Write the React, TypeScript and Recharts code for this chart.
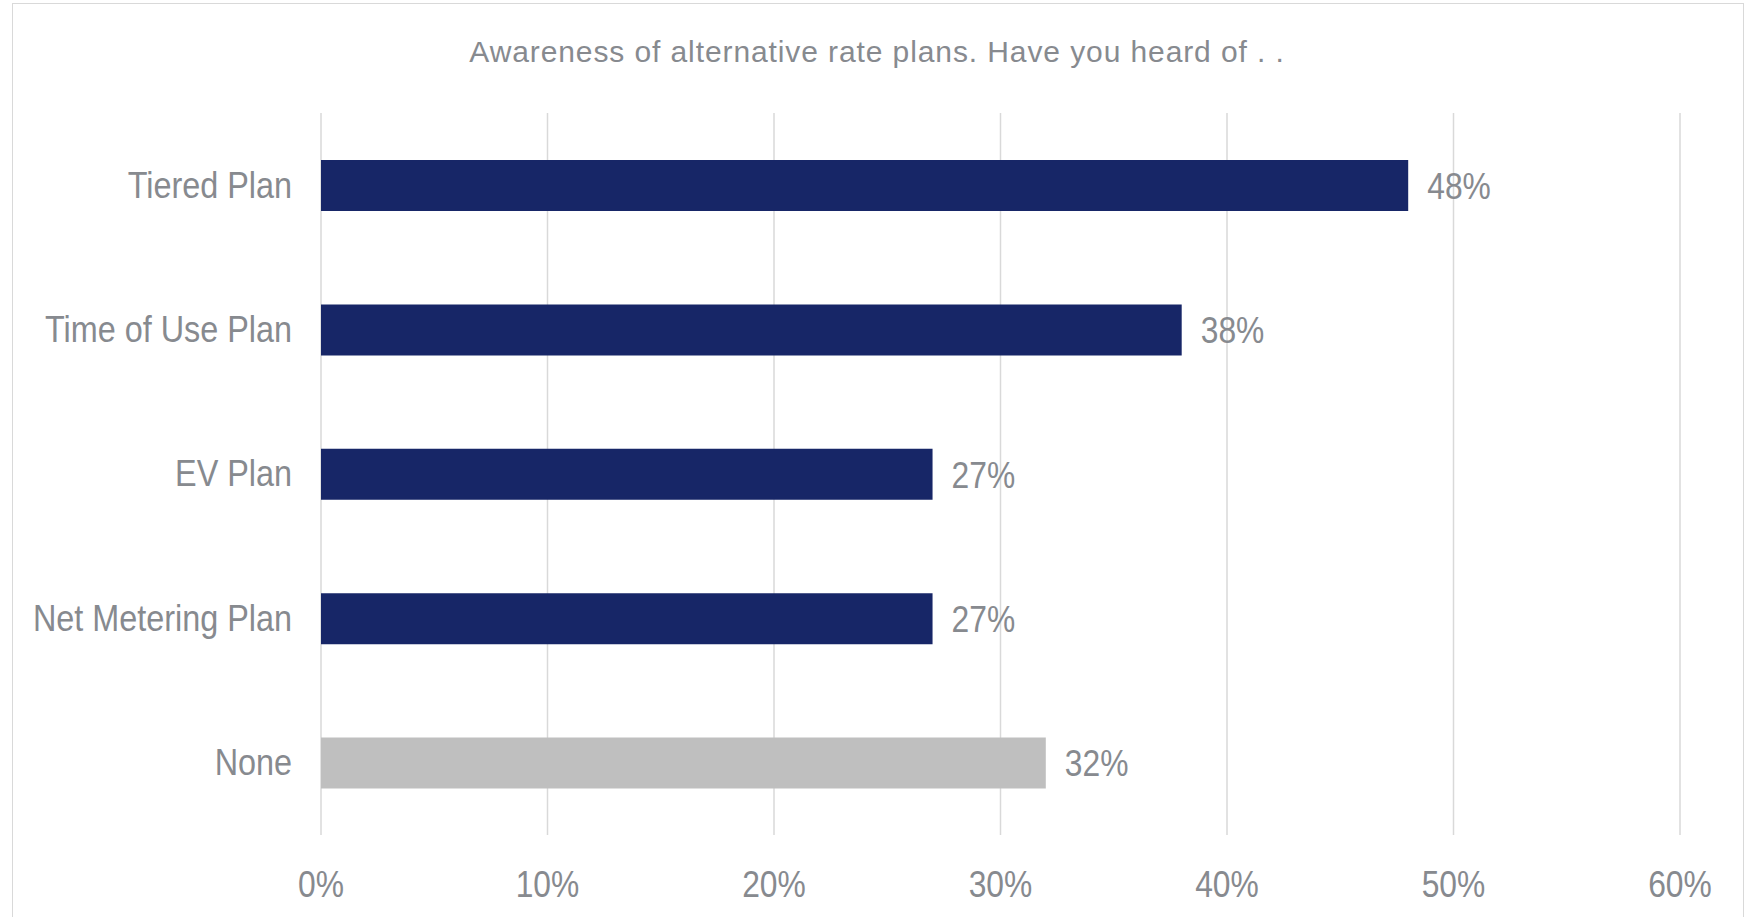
import React from 'react';
import { BarChart, Bar, XAxis, YAxis, CartesianGrid, Cell, LabelList } from 'recharts';

const categories = ['Tiered Plan', 'Time of Use Plan', 'EV Plan', 'Net Metering Plan', 'None'];
const awareness = [48, 38, 27, 27, 32];
const xTicks = [0, 10, 20, 30, 40, 50, 60];

const NAVY = '#172667';
const GREY_BAR = '#bfbfbf';
const TEXT = '#878a8f';
const FONT = '"Liberation Sans", Arial, sans-serif';
const NARROW = 0.86; // squeeze to look like a narrow face
const SIZE = 37;

const data = categories.map((name, i) => ({ name, value: awareness[i] }));

const pct = (v: number) => `${v}%`;

// category labels, right aligned next to the plot
const CategoryTick = (props: any) => {
  const { x, y, payload } = props;
  return (
    <text
      transform={`translate(${x},${y - 1}) scale(0.875,1)`}
      textAnchor="end"
      dy="0.36em"
      fill={TEXT}
      fontSize={SIZE}
      fontFamily={FONT}
    >
      {payload.value}
    </text>
  );
};

const ValueTick = (props: any) => {
  const { x, y, payload } = props;
  return (
    <text
      transform={`translate(${x},${y}) scale(${NARROW},1)`}
      textAnchor="middle"
      dy="0.71em"
      fill={TEXT}
      fontSize={SIZE}
      fontFamily={FONT}
    >
      {pct(payload.value)}
    </text>
  );
};

const BarValue = (props: any) => {
  const { x, y, width, height, value } = props;
  return (
    <text
      transform={`translate(${Number(x) + Number(width) + 19},${Number(y) + Number(height) / 2}) scale(${NARROW},1)`}
      textAnchor="start"
      dy="0.36em"
      fill={TEXT}
      fontSize={SIZE}
      fontFamily={FONT}
    >
      {pct(value)}
    </text>
  );
};

const App: React.FC = () => {
  return (
    <div style={{ position: 'absolute', left: 0, top: 0, width: 1752, height: 917, overflow: 'hidden', background: '#fff', fontFamily: FONT }}>
      <div style={{ position: 'absolute', left: 12, top: 3, width: 1730, height: 960, border: '1px solid #d9d9d9' }} />
      <div
        style={{
          position: 'absolute',
          left: 0,
          top: 35,
          width: 1752,
          paddingLeft: 1,
          textAlign: 'center',
          fontSize: 30,
          lineHeight: 'normal',
          letterSpacing: 0.9,
          color: TEXT,
        }}
      >
        Awareness of alternative rate plans. Have you heard of . .
      </div>
      <div style={{ position: 'absolute', left: 0, top: 0 }}>
        <BarChart
          width={1752}
          height={917}
          data={data}
          layout="vertical"
          margin={{ top: 113, right: 72, bottom: 22, left: 0 }}
        >
          <CartesianGrid horizontal={false} stroke="#d9d9d9" strokeWidth={1.5} />
          <XAxis
            type="number"
            domain={[0, 60]}
            ticks={xTicks}
            axisLine={false}
            tickLine={false}
            tickSize={0}
            tickMargin={36}
            height={60}
            tick={<ValueTick />}
          />
          <YAxis
            type="category"
            dataKey="name"
            width={321}
            axisLine={false}
            tickLine={false}
            tickSize={0}
            tickMargin={29}
            tick={<CategoryTick />}
          />
          <Bar dataKey="value" barSize={51} isAnimationActive={false}>
            {data.map((d) => (
              <Cell key={d.name} fill={d.name === 'None' ? GREY_BAR : NAVY} />
            ))}
            <LabelList dataKey="value" content={<BarValue />} />
          </Bar>
        </BarChart>
      </div>
    </div>
  );
};

export default App;
